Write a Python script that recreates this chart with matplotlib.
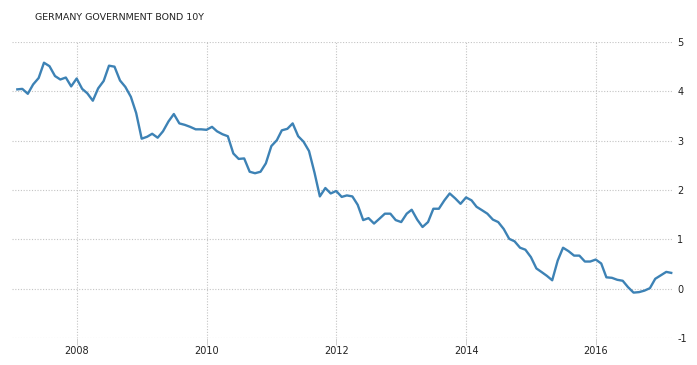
import pandas as pd
import matplotlib
matplotlib.use("Agg")
import matplotlib.pyplot as plt
import matplotlib.dates as mdates

# monthly 10Y yield, Jan 2007 - Feb 2017
yields = [
    4.04, 4.05, 3.95, 4.14, 4.27, 4.58, 4.51, 4.31, 4.24, 4.28, 4.10, 4.26,
    4.05, 3.96, 3.81, 4.06, 4.21, 4.52, 4.50, 4.22, 4.09, 3.89, 3.56, 3.04,
    3.08, 3.14, 3.06, 3.19, 3.39, 3.54, 3.35, 3.32, 3.28, 3.23, 3.23, 3.22,
    3.28, 3.19, 3.13, 3.09, 2.74, 2.63, 2.64, 2.37, 2.34, 2.37, 2.54, 2.89,
    3.01, 3.21, 3.24, 3.35, 3.09, 2.98, 2.79, 2.35, 1.87, 2.04, 1.93, 1.98,
    1.86, 1.89, 1.87, 1.70, 1.39, 1.43, 1.32, 1.42, 1.52, 1.52, 1.39, 1.35,
    1.52, 1.60, 1.40, 1.25, 1.35, 1.62, 1.62, 1.79, 1.93, 1.83, 1.72, 1.85,
    1.79, 1.66, 1.59, 1.52, 1.40, 1.35, 1.21, 1.01, 0.96, 0.83, 0.79, 0.64,
    0.41, 0.34, 0.26, 0.17, 0.57, 0.83, 0.76, 0.67, 0.67, 0.55, 0.55, 0.59,
    0.51, 0.23, 0.22, 0.18, 0.16, 0.03, -0.08, -0.07, -0.04, 0.01, 0.20, 0.27,
    0.34, 0.32,
]
dates = pd.date_range("2007-01-31", periods=len(yields), freq="ME")
y_ticks = [-1, 0, 1, 2, 3, 4, 5]
x_years = [2008, 2010, 2012, 2014, 2016]

fig = plt.figure(figsize=(6.97, 3.65), dpi=100)
ax = fig.add_axes([12/697, 1 - 338/365, 661/697, 296/365])

ax.plot(dates, yields, color="#3d82b5", linewidth=1.7, solid_joinstyle="round")

ax.set_ylim(-1, 5)
ax.set_xlim(pd.Timestamp("2007-01-01"), pd.Timestamp("2017-03-10"))
ax.set_yticks(y_ticks)
ax.set_yticklabels([str(v) for v in y_ticks])
ax.set_xticks([pd.Timestamp(f"{y}-01-01") for y in x_years])
ax.xaxis.set_major_formatter(mdates.DateFormatter("%Y"))

ax.yaxis.tick_right()
ax.grid(True, linestyle=(0, (1, 1.5)), color="#c4c4c4", linewidth=0.8)
for s in ax.spines.values():
    s.set_visible(False)

ax.tick_params(axis="y", length=0, pad=3, labelsize=7, labelcolor="#222222")
ax.tick_params(axis="x", length=5, color="#d0d0d0", width=0.7, pad=1,
               labelsize=7, labelcolor="#222222")

fig.text(35/697, 1 - 17/365, "GERMANY GOVERNMENT BOND 10Y", fontsize=6.8,
         color="#222222", va="center", ha="left")

fig.savefig("out.png", dpi=100)
